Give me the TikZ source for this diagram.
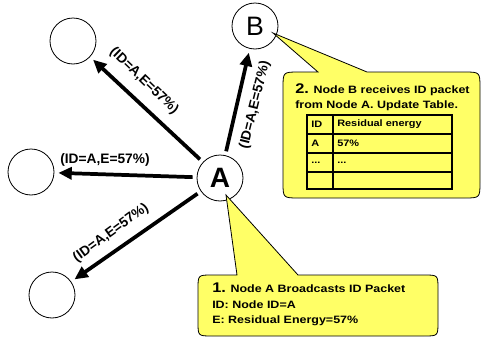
\documentclass[tikz,border=0pt]{standalone}
\usepackage{fontspec}
\setmainfont{Liberation Sans}
\newfontfamily\ancha[FakeStretch=1.17]{Liberation Sans}
\usetikzlibrary{arrows.meta}
\definecolor{globoamarillo}{RGB}{255,255,102}

\begin{document}
\begin{tikzpicture}[x=0.75pt, y=-0.75pt,
    nodo/.style={circle, draw, fill=white, line width=0.6pt, minimum size=34.5pt, inner sep=0pt},
    paquete/.style={line width=2.8pt, -{Triangle[length=10pt, width=9pt]}, shorten <=3pt, shorten >=3pt},
    etiqueta/.style={font=\fontsize{10.3}{12}\selectfont\bfseries, inner sep=0pt},
    globo/.style={draw, fill=globoamarillo, line width=0.6pt},
    texto/.style={font=\ancha\fontsize{8}{10}\selectfont\bfseries, anchor=base west, inner sep=0pt},
    tabla/.style={line width=1.2pt},
    celda/.style={font=\ancha\fontsize{7}{9}\selectfont\bfseries, anchor=west, inner sep=0pt}]

    \useasboundingbox (0,0) rectangle (483,343);

    % Nodos de la red
    \node[nodo, font=\fontsize{21}{24}\selectfont\bfseries] (A) at (220,178) {A};
    \node[nodo, font=\fontsize{20}{24}\selectfont] (B) at (255,26) {B};
    \node[nodo] (n1) at (73,41) {};
    \node[nodo] (n2) at (31,172) {};
    \node[nodo] (n3) at (52,295) {};

    % Difusion del paquete ID desde A
    \draw[paquete] (A) -- (n1);
    \draw[paquete] (A) -- (n2);
    \draw[paquete] (A) -- (n3);
    \draw[paquete] (A) -- (B);

    % Contenido del paquete sobre cada flecha
    \node[etiqueta, rotate=-44] (e1) at (144,81) {(ID=A,E=57\%)};
    \node[etiqueta] (e2) at (105,160) {(ID=A,E=57\%)};
    \node[etiqueta, rotate=36] (e3) at (111,233) {(ID=A,E=57\%)};
    \node[etiqueta, rotate=76] (e4) at (255,105) {(ID=A,E=57\%)};

    % Globo 1 (apunta a A)
    \draw[globo] (237,275) -- (226,195) -- (298,275) -- (424,275)
        .. controls (438,275) .. (438,289) -- (438,322)
        .. controls (438,336) .. (424,336) -- (212,336)
        .. controls (198,336) .. (198,322) -- (198,289)
        .. controls (198,275) .. (212,275) -- cycle;
    \node[texto] (g1a) at (212,292) {{\fontsize{10.5}{12}\selectfont 1.} Node A Broadcasts ID Packet};
    \node[texto] (g1b) at (212,308) {ID: Node ID=A};
    \node[texto] (g1c) at (212,323) {E: Residual Energy=57\%};

    % Globo 2 (apunta a B)
    \draw[globo] (318,72) -- (273,33) -- (367,72) -- (464,72)
        .. controls (480,72) .. (480,88) -- (480,182)
        .. controls (480,198) .. (464,198) -- (299,198)
        .. controls (283,198) .. (283,182) -- (283,88)
        .. controls (283,72) .. (299,72) -- cycle;
    \node[texto] (g2a) at (295,93) {{\fontsize{10.5}{12}\selectfont 2.} Node B receives ID packet};
    \node[texto] (g2b) at (295,108) {from Node A. Update Table.};

    % Tabla de B
    \draw[tabla] (307,115) rectangle (452,189);
    \foreach \y in {134,153,172}
        \draw[tabla] (307,\y) -- (452,\y);
    \draw[tabla] (333,115) -- (333,189);
    \node[celda] (c11) at (311,124.5) {ID};
    \node[celda] (c12) at (337,124.5) {Residual energy};
    \node[celda] (c21) at (311,143.5) {A};
    \node[celda] (c22) at (337,143.5) {57\%};
    \node[celda] (c31) at (311,162.5) {...};
    \node[celda] (c32) at (337,162.5) {...};
\end{tikzpicture}
\end{document}
